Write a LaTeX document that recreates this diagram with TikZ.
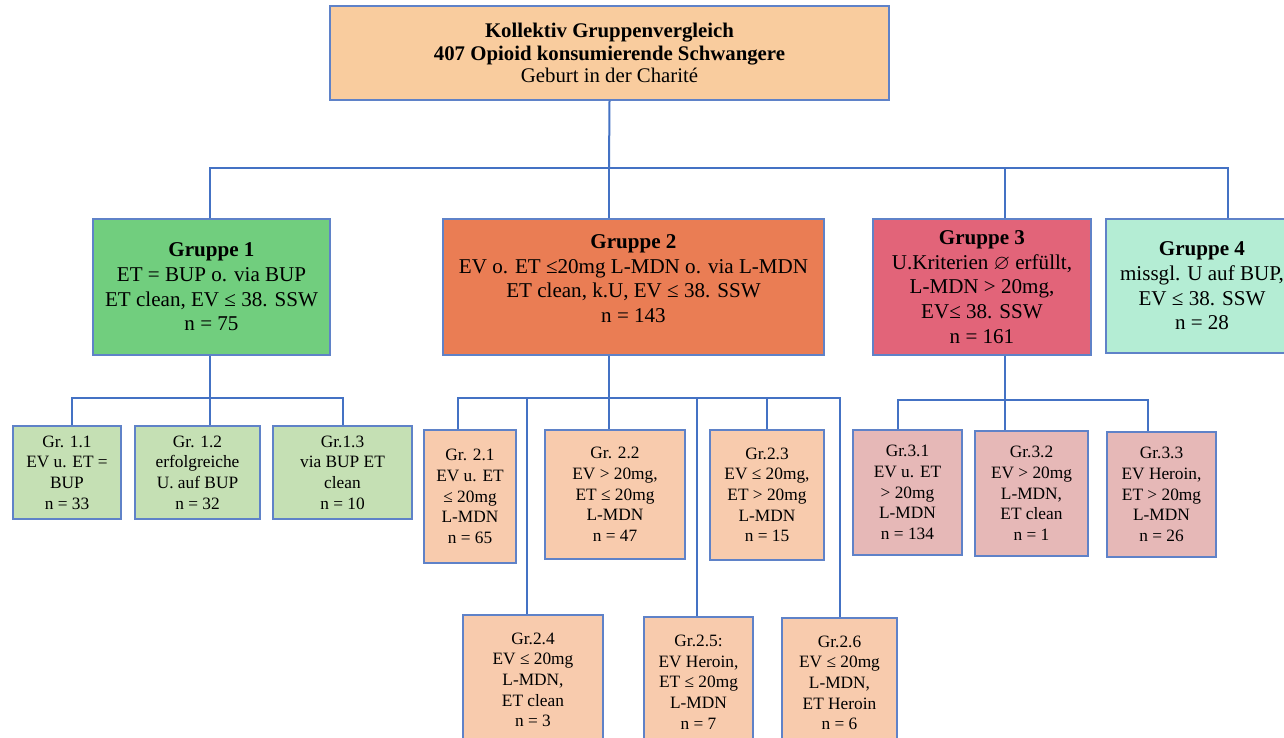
\documentclass[tikz,border=0pt]{standalone}
\usepackage{amssymb}
\usepackage{fontspec}
\setmainfont{Liberation Serif}
\usepackage{tikz}
\usetikzlibrary{positioning,calc}
\definecolor{linieBlau}{RGB}{68,114,196}
\definecolor{rahmenBlau}{RGB}{95,130,200}
\definecolor{pfirsich}{RGB}{249,204,158}
\definecolor{gruenG}{RGB}{113,206,126}
\definecolor{orangeG}{RGB}{234,125,84}
\definecolor{rotG}{RGB}{226,100,121}
\definecolor{mintG}{RGB}{180,237,212}
\definecolor{gruenHell}{RGB}{197,224,180}
\definecolor{pfirsichHell}{RGB}{248,203,173}
\definecolor{rosaHell}{RGB}{230,184,183}

\begin{document}
\begin{tikzpicture}[x=0.75pt, y=-0.75pt,
  bx/.style 2 args={draw=rahmenBlau, line width=1.1pt, inner sep=0pt, align=center,
                    minimum width=#1*0.75pt, minimum height=#2*0.75pt},
  grp/.style={font=\fontsize{15.8}{18.5}\selectfont},
  sub/.style={font=\fontsize{13}{15.5}\selectfont},
  link/.style={draw=linieBlau, line width=1.5pt}]

\clip (0,0) rectangle (1284,738);
\fill[white] (0,0) rectangle (1284,738);

\node[bx={559}{94}, fill=pfirsich, font=\fontsize{15.6}{16.6}\selectfont] (top) at (609.5,53)
  {\textbf{Kollektiv Gruppenvergleich}\\\textbf{407 Opioid konsumierende Schwangere}\\Geburt in der Charité};

\node[bx={237}{136}, grp, fill=gruenG] (g1) at (211.5,287)
  {\textbf{Gruppe 1}\\ET = BUP o. via BUP\\ET clean, EV ≤ 38. SSW\\n = 75};
\node[bx={381}{136}, grp, fill=orangeG] (g2) at (633.5,287)
  {\textbf{Gruppe 2}\\EV o. ET ≤20mg L-MDN o. via L-MDN\\ET clean, k.U, EV ≤ 38. SSW\\n = 143\\[-6pt]};
\node[bx={218}{136}, grp, fill=rotG] (g3) at (982,287)
  {\textbf{Gruppe 3}\\U.Kriterien $\varnothing$ erfüllt,\\L-MDN > 20mg,\\EV≤ 38. SSW\\n = 161};
\node[bx={192}{134}, grp, fill=mintG] (g4) at (1202,286)
  {\textbf{Gruppe 4}\\missgl. U auf BUP,\\EV ≤ 38. SSW\\n = 28};

\node[bx={108}{93}, sub, fill=gruenHell] (g11) at (67,472.5)
  {Gr. 1.1\\EV u. ET =\\BUP\\n = 33};
\node[bx={125}{93}, sub, fill=gruenHell] (g12) at (197.5,472.5)
  {Gr. 1.2\\erfolgreiche\\U. auf BUP\\n = 32};
\node[bx={139}{93}, sub, fill=gruenHell] (g13) at (342.5,472.5)
  {Gr.1.3\\via BUP ET\\clean\\n = 10};

\node[bx={92}{133}, sub, fill=pfirsichHell] (g21) at (470,496.5)
  {Gr. 2.1\\EV u. ET\\≤ 20mg\\L-MDN\\n = 65};
\node[bx={140}{129}, sub, fill=pfirsichHell] (g22) at (615,494.5)
  {Gr. 2.2\\EV > 20mg,\\ET ≤ 20mg\\L-MDN\\n = 47};
\node[bx={114}{130}, sub, fill=pfirsichHell] (g23) at (767,495)
  {Gr.2.3\\EV ≤ 20mg,\\ET > 20mg\\L-MDN\\n = 15};
\node[bx={140}{130}, sub, fill=pfirsichHell] (g24) at (533,680)
  {Gr.2.4\\EV ≤ 20mg\\L-MDN,\\ET clean\\n = 3};
\node[bx={109}{130}, sub, fill=pfirsichHell] (g25) at (698.5,682)
  {Gr.2.5:\\EV Heroin,\\ET ≤ 20mg\\L-MDN\\n = 7};
\node[bx={115}{130}, sub, fill=pfirsichHell] (g26) at (839.5,683)
  {Gr.2.6\\EV ≤ 20mg\\L-MDN,\\ET Heroin\\n = 6};

\node[bx={109}{125}, sub, fill=rosaHell] (g31) at (907.5,492.5)
  {Gr.3.1\\EV u. ET\\> 20mg\\L-MDN\\n = 134};
\node[bx={113}{125}, sub, fill=rosaHell] (g32) at (1031.5,493.5)
  {Gr.3.2\\EV > 20mg\\L-MDN,\\ET clean\\n = 1};
\node[bx={109}{125}, sub, fill=rosaHell] (g33) at (1161.5,494.5)
  {Gr.3.3\\EV Heroin,\\ET > 20mg\\L-MDN\\n = 26};

\coordinate (bus) at (609,168);
\coordinate (s1) at (210,398);
\coordinate (s2) at (609,398);
\coordinate (s3) at (1005,400);

\draw[link] (top.south) -- (bus);
\draw[link] ($(g1.north)+(-1.5,0)$) |- (bus) -| ($(g4.north)+(26,0)$);
\draw[link] (bus) -- (bus |- g2.north);
\draw[link] ($(g3.north)+(23,0)$) -- ++(0,-51);

\draw[link] (s1 |- g1.south) -- (s1 |- g12.north);
\draw[link] ($(g11.north)+(5,0)$) |- (s1) -| ($(g13.north)+(0.5,0)$);

\draw[link] (g2.south -| bus) -- (bus |- g22.north);
\draw[link] ($(g21.north)+(-12,0)$) |- (s2) -| (g26.north);
\draw[link] ($(g24.north)+(-6,0)$) |- (s2);
\draw[link] ($(g25.north)+(-1.5,0)$) |- (s2);
\draw[link] (g23.north) |- (s2);

\draw[link] ($(g3.south)+(23,0)$) -- ($(g32.north)+(-26.5,0)$);
\draw[link] ($(g31.north)+(-9.5,0)$) |- (s3) -| ($(g33.north)+(-13.5,0)$);

\end{tikzpicture}
\end{document}
